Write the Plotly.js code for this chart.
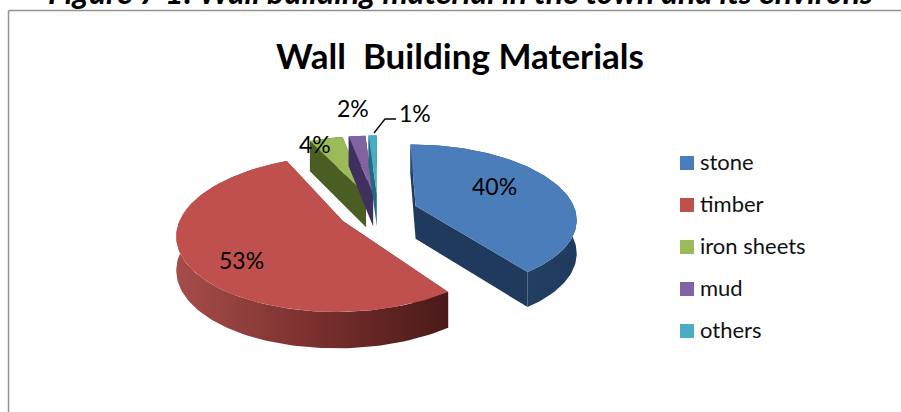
<!DOCTYPE html>
<html>
<head>
<meta charset="utf-8">
<script src="https://cdn.plot.ly/plotly-3.0.1.min.js"></script>
<style>html,body{margin:0;padding:0;background:#fff;overflow:hidden}#chart{width:901px;height:412px}</style>
</head>
<body>
<div id="chart"></div>
<script>
// --- data ---
const categories = ['stone', 'timber', 'iron sheets', 'mud', 'others'];
const shares = [40, 53, 4, 2, 1];
const chartTitle = 'Wall\u00a0\u00a0Building Materials';
const caption = 'Figure 7 1: Wall building material in the town and its environs';

// --- style ---
const topColors = ['#4b7dbb', '#bf504d', '#9bbb59', '#8064a2', '#4bacc6'];
const cutColors = ['#1f3a5c', '#5c2120', '#4b5d23', '#3f3060', '#256a7c'];
const wallScales = [
  [[0, '#2a4a72'], [1, '#1f3a5c']],
  [[0, '#a64d4a'], [0.5, '#7a302e'], [1, '#4a1a18']],
  [[0, '#4b5d23'], [1, '#4b5d23']],
  [[0, '#3f3060'], [1, '#3f3060']],
  [[0, '#256a7c'], [1, '#256a7c']]
];
const labelAt = [[494, 186], [241, 260], [315, 144], [353, 108], [415, 113]];
const keyRows = [163, 205, 247, 289, 331];
const font = 'Lato, Carlito, sans-serif';

// --- projection of the tilted pie onto the page ---
const view = {cx: 378, cy: 211.5, rx: 160, ry: 73, persp: 0.16, depth: 33, pull: 0.25};
function project(X, Y, drop) {
  const s = 1 / (1 + view.persp * Y);
  return [view.cx + view.rx * X * s, view.cy - view.ry * Y * s + (drop ? view.depth * Math.sqrt(s) : 0)];
}

const total = shares.reduce((a, b) => a + b, 0);
const traces = [];
let angles = [], acc = 0;
shares.forEach(v => { angles.push([acc, acc + v / total * 2 * Math.PI]); acc += v / total * 2 * Math.PI; });

function poly(pts, extra) {
  return Object.assign({
    x: pts.map(p => p ? p[0] : null), y: pts.map(p => p ? p[1] : null),
    type: 'scatter', mode: 'lines', fill: 'toself', line: {width: 0},
    hoverinfo: 'skip', showlegend: false
  }, extra);
}

// back slices first, front ones last
[2, 3, 4, 0, 1].forEach(i => {
  const [a0, a1] = angles[i];
  const mid = (a0 + a1) / 2;
  const ox = view.pull * Math.sin(mid), oy = view.pull * Math.cos(mid);
  const rim = [];
  const steps = Math.max(4, Math.ceil((a1 - a0) * 40));
  for (let k = 0; k <= steps; k++) {
    const t = a0 + (a1 - a0) * k / steps;
    rim.push([ox + Math.sin(t), oy + Math.cos(t)]);
  }
  const top = rim.map(p => project(p[0], p[1], false));
  const low = rim.map(p => project(p[0], p[1], true));
  const apexT = project(ox, oy, false), apexB = project(ox, oy, true);
  const last = rim.length - 1;
  traces.push(poly([apexT, top[0], low[0], apexB, apexT, null, apexT, top[last], low[last], apexB, apexT],
    {fillcolor: cutColors[i], name: categories[i] + ' cut'}));
  traces.push(poly(top.concat(low.slice().reverse()),
    {fillgradient: {type: 'horizontal', colorscale: wallScales[i]}, name: categories[i] + ' wall'}));
  traces.push(poly([apexT].concat(top, [apexT]),
    {fillcolor: topColors[i], name: categories[i], text: categories[i] + ': ' + shares[i] + '%', hoveron: 'fills', hoverinfo: 'text'}));
});

// leader line of the smallest slice
traces.push({x: [374, 385, 396], y: [133, 119, 119], type: 'scatter', mode: 'lines',
  line: {color: '#000', width: 1.3}, hoverinfo: 'skip', showlegend: false});

// colour key
traces.push({
  x: categories.map(() => 687), y: keyRows, type: 'scatter', mode: 'markers',
  marker: {symbol: 'square', size: 14, color: topColors, line: {width: 0}},
  hoverinfo: 'skip', showlegend: false
});
traces.push({
  x: categories.map(() => 700), y: keyRows.map(r => r + 1), type: 'scatter', mode: 'text',
  text: categories, textposition: 'middle right',
  textfont: {family: font, size: 22, color: '#111'},
  hoverinfo: 'skip', showlegend: false
});

const annotations = shares.map((v, i) => ({
  x: labelAt[i][0], y: labelAt[i][1], xref: 'x', yref: 'y', showarrow: false,
  text: Math.round(v / total * 100) + '%', font: {family: font, size: 23, color: '#000'}
}));
annotations.push({
  x: 460, y: 13, xref: 'x', yref: 'y', xanchor: 'center', yanchor: 'bottom', showarrow: false,
  text: '<b><i>' + caption + '</i></b>', font: {family: font, size: 32, color: '#000'}
});

const layout = {
  width: 901, height: 412, margin: {l: 0, r: 0, t: 0, b: 0},
  paper_bgcolor: '#fff', plot_bgcolor: '#fff', showlegend: false,
  title: {text: chartTitle, x: 460 / 901, y: 1 - 57 / 412, xref: 'paper', yref: 'paper',
    xanchor: 'center', yanchor: 'middle', font: {family: font, size: 35, color: '#000', weight: 700}},
  xaxis: {range: [0, 901], visible: false, fixedrange: true},
  yaxis: {range: [412, 0], visible: false, fixedrange: true},
  annotations: annotations,
  shapes: [
    {type: 'line', xref: 'x', yref: 'y', x0: 8.5, x1: 8.5, y0: 10.5, y1: 412, line: {color: '#929292', width: 1.5}},
    {type: 'line', xref: 'x', yref: 'y', x0: 8.5, x1: 901, y0: 10.5, y1: 10.5, line: {color: '#929292', width: 1.5}}
  ]
};
Plotly.newPlot('chart', traces, layout, {displayModeBar: false, responsive: false});
</script>
</body>
</html>
